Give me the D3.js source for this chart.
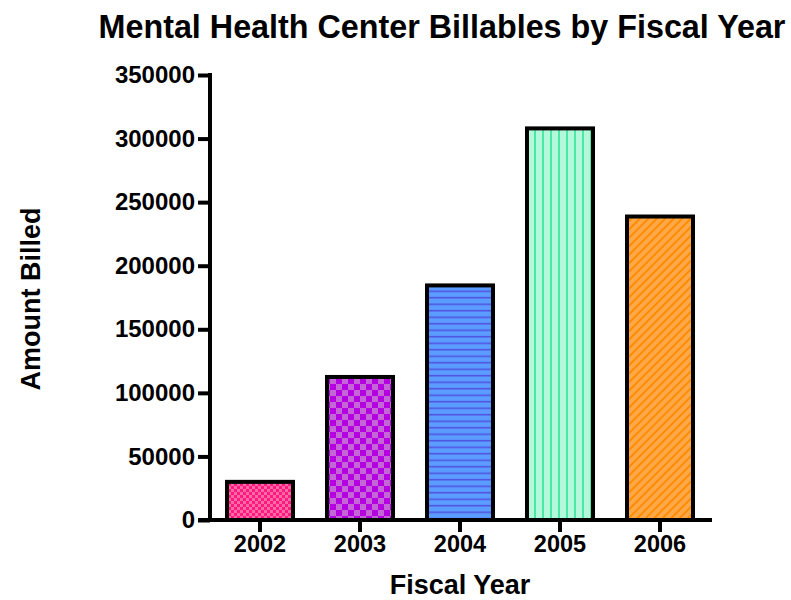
<!DOCTYPE html>
<html>
<head>
<meta charset="utf-8">
<script src="https://cdn.jsdelivr.net/npm/d3@7"></script>
<style>
  body { margin: 0; background: #fff; }
  text { font-family: "Liberation Sans", Arial, sans-serif; font-weight: bold; fill: #000; }
</style>
</head>
<body>
<div id="chart"></div>
<script>
// data
const years = ["2002", "2003", "2004", "2005", "2006"];
const billed = [30000, 112500, 184500, 308000, 238700];
const yTicks = [0, 50000, 100000, 150000, 200000, 250000, 300000, 350000];
const patternIds = ["pat-pink", "pat-purple", "pat-blue", "pat-mint", "pat-orange"];

const W = 791, H = 600;
const svg = d3.select("#chart").append("svg")
    .attr("width", W)
    .attr("height", H);

// fill patterns
const defs = svg.append("defs");

// pink fine checks
let p = defs.append("pattern").attr("id", "pat-pink")
    .attr("patternUnits", "userSpaceOnUse").attr("width", 6).attr("height", 6);
p.append("rect").attr("width", 6).attr("height", 6).attr("fill", "#ff1a80");
p.append("rect").attr("width", 3).attr("height", 3).attr("fill", "#ff6aa6");
p.append("rect").attr("x", 3).attr("y", 3).attr("width", 3).attr("height", 3).attr("fill", "#ff6aa6");

// purple checkerboard
p = defs.append("pattern").attr("id", "pat-purple")
    .attr("patternUnits", "userSpaceOnUse").attr("width", 12).attr("height", 12);
p.append("rect").attr("width", 12).attr("height", 12).attr("fill", "#b400e0");
p.append("rect").attr("width", 6).attr("height", 6).attr("fill", "#c466d6");
p.append("rect").attr("x", 6).attr("y", 6).attr("width", 6).attr("height", 6).attr("fill", "#c466d6");

// blue horizontal lines
p = defs.append("pattern").attr("id", "pat-blue")
    .attr("patternUnits", "userSpaceOnUse").attr("width", 6).attr("height", 6.5);
p.append("rect").attr("width", 6).attr("height", 6.5).attr("fill", "#5a9cff");
p.append("rect").attr("y", 4.5).attr("width", 6).attr("height", 1.5).attr("fill", "#5050e0");

// mint vertical lines
p = defs.append("pattern").attr("id", "pat-mint")
    .attr("patternUnits", "userSpaceOnUse").attr("width", 8).attr("height", 8);
p.append("rect").attr("width", 8).attr("height", 8).attr("fill", "#b4f8dc");
p.append("rect").attr("x", 6).attr("width", 2).attr("height", 8).attr("fill", "#4ae8a4");

// orange diagonal lines
p = defs.append("pattern").attr("id", "pat-orange")
    .attr("patternUnits", "userSpaceOnUse").attr("width", 6).attr("height", 6)
    .attr("patternTransform", "rotate(45)");
p.append("rect").attr("width", 6).attr("height", 6).attr("fill", "#ffa84a");
p.append("rect").attr("width", 2).attr("height", 6).attr("fill", "#ff8c00");

// scales
const x = d3.scaleBand()
    .domain(years)
    .range([210, 710])
    .paddingInner(0.34)
    .paddingOuter(0.17);

const y = d3.scaleLinear()
    .domain([0, 350000])
    .range([520, 75]);

// bars
svg.selectAll("rect.bar")
    .data(years)
    .enter()
    .append("rect")
    .attr("class", "bar")
    .attr("x", d => x(d))
    .attr("width", x.bandwidth())
    .attr("y", (d, i) => y(billed[i]))
    .attr("height", (d, i) => y(0) - y(billed[i]))
    .attr("fill", (d, i) => `url(#${patternIds[i]})`)
    .attr("stroke", "#000")
    .attr("stroke-width", 4);

// y axis
const yAxis = svg.append("g")
    .attr("transform", "translate(210,0)")
    .call(d3.axisLeft(y).tickValues(yTicks).tickSize(12).tickPadding(3).tickFormat(d3.format("d")));
yAxis.select(".domain").attr("stroke-width", 4).attr("d", `M0,${y(0)}V${y(350000) - 2}`);
yAxis.selectAll(".tick line").attr("stroke-width", 4);
yAxis.selectAll(".tick text").style("font-size", "24px");

// x axis
const xAxis = svg.append("g")
    .attr("transform", "translate(0,520)")
    .call(d3.axisBottom(x).tickSize(12).tickPadding(3));
xAxis.select(".domain").attr("stroke-width", 4).attr("d", "M198,0H712");
xAxis.selectAll(".tick line").attr("stroke-width", 4);
xAxis.selectAll(".tick text").style("font-size", "23.5px");

// title
svg.append("text")
    .attr("x", 442)
    .attr("y", 38)
    .attr("text-anchor", "middle")
    .style("font-size", "32.3px")
    .text("Mental Health Center Billables by Fiscal Year");

// axis titles
svg.append("text")
    .attr("x", 460)
    .attr("y", 594)
    .attr("text-anchor", "middle")
    .style("font-size", "27px")
    .text("Fiscal Year");

svg.append("text")
    .attr("transform", "translate(40,299) rotate(-90)")
    .attr("text-anchor", "middle")
    .style("font-size", "27px")
    .text("Amount Billed");
</script>
</body>
</html>
